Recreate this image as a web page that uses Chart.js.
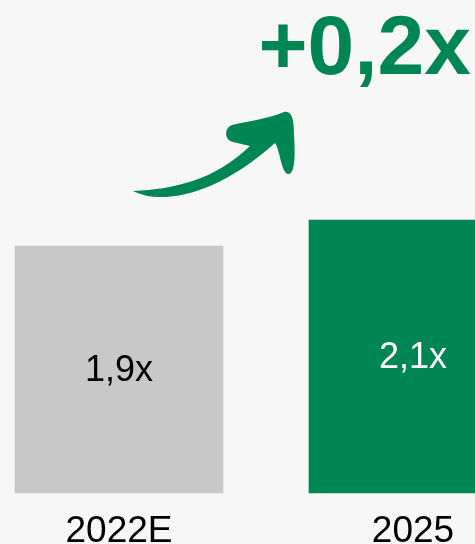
<!DOCTYPE html>
<html>
<head>
<meta charset="utf-8">
<script src="https://cdn.jsdelivr.net/npm/chart.js@4"></script>
<style>
  html, body { margin: 0; padding: 0; background: #f7f7f7; overflow: hidden; }
  #wrap { width: 475px; height: 544px; position: relative; }
</style>
</head>
<body>
<div id="wrap"><canvas id="grafico"></canvas></div>
<script>
const categorias = ['2022E', '2025'];
const multiplos = [1.9, 2.1];
const cores = ['#c8c8c8', '#008555'];
const coresTexto = ['#000000', '#ffffff'];
const variacao = '+0,2x';

const fonte = '"Liberation Sans", Arial, sans-serif';
const verde = '#008555';

// rotulos dentro das barras + seta e "+0,2x"
const extras = {
  id: 'extras',
  afterDatasetsDraw(chart) {
    const ctx = chart.ctx;
    const meta = chart.getDatasetMeta(0);
    ctx.save();
    ctx.font = '36px ' + fonte;
    ctx.textAlign = 'center';
    ctx.textBaseline = 'middle';
    meta.data.forEach((bar, i) => {
      ctx.fillStyle = coresTexto[i];
      const txt = multiplos[i].toFixed(1).replace('.', ',') + 'x';
      ctx.fillText(txt, bar.x, (bar.y + bar.base) / 2 + 2);
    });

    // seta
    ctx.fillStyle = verde;
    ctx.beginPath();
    ctx.moveTo(133, 191);
    ctx.bezierCurveTo(160, 205, 215, 197, 275, 143);
    ctx.bezierCurveTo(280, 150, 281, 172, 288, 174);
    ctx.bezierCurveTo(296, 175, 295, 150, 294, 135);
    ctx.bezierCurveTo(294, 120, 292, 110, 284, 112);
    ctx.bezierCurveTo(270, 118, 245, 122, 232, 125);
    ctx.bezierCurveTo(224, 128, 224, 140, 233, 142);
    ctx.lineTo(250, 146);
    ctx.bezierCurveTo(215, 180, 175, 189, 133, 191);
    ctx.closePath();
    ctx.fill();

    ctx.font = 'bold 84px ' + fonte;
    ctx.textAlign = 'right';
    ctx.textBaseline = 'alphabetic';
    ctx.fillText(variacao, 471, 74);
    ctx.restore();
  }
};

new Chart(document.getElementById('grafico'), {
  type: 'bar',
  data: {
    labels: categorias,
    datasets: [{
      data: multiplos,
      backgroundColor: cores,
      barThickness: 208,
      clip: false
    }]
  },
  options: {
    responsive: true,
    maintainAspectRatio: false,
    animation: false,
    layout: { padding: { left: 119, right: 62, top: 103, bottom: -26 } },
    plugins: { legend: { display: false }, tooltip: { enabled: false } },
    scales: {
      x: {
        offset: false,
        grid: { display: false, drawTicks: false },
        border: { display: false },
        ticks: {
          color: '#000',
          padding: 20,
          font: { family: fonte, size: 37, lineHeight: 1 }
        }
      },
      y: { display: false, min: 0, max: 3 }
    }
  },
  plugins: [extras]
});
</script>
</body>
</html>
